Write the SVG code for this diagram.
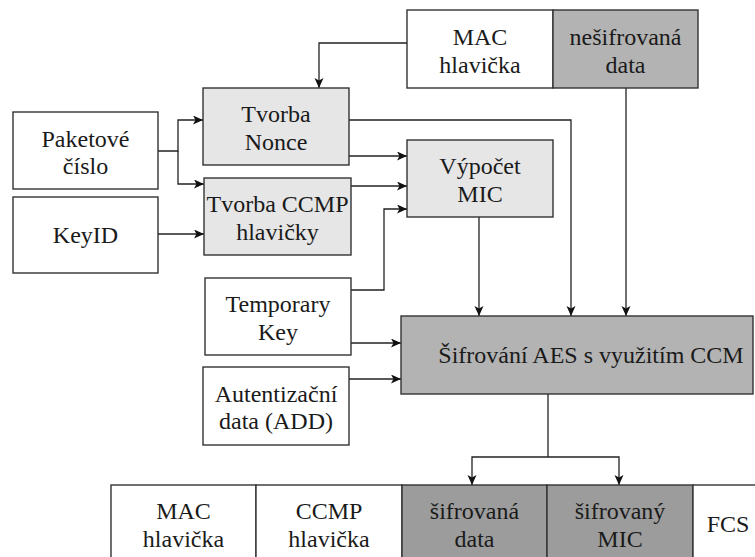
<svg xmlns="http://www.w3.org/2000/svg" width="755" height="557" viewBox="0 0 755 557">
  <defs>
    <marker id="arrow" markerUnits="userSpaceOnUse" markerWidth="11" markerHeight="10" refX="10" refY="4.5" orient="auto">
      <path d="M0,0 L10,4.5 L0,9 L2.5,4.5 z" fill="#111"/>
    </marker>
    <style>
      .box { stroke: #333; stroke-width: 1.4; }
      .white { fill: #ffffff; }
      .light { fill: #e6e6e6; }
      .mid { fill: #b3b3b3; }
      .dark { fill: #9c9c9c; }
      text { font-family: "Liberation Serif", "DejaVu Serif", serif; font-size: 24px; fill: #1a1a1a; text-anchor: middle; }
      .wire { fill: none; stroke: #222; stroke-width: 1.3; }
      .arr { marker-end: url(#arrow); }
    </style>
  </defs>

  <rect width="755" height="557" fill="#ffffff"/>

  <!-- connectors -->
  <g id="connectors">
    <path class="wire arr" d="M407,43 H319 V88"/>
    <path class="wire arr" d="M158,151 H178 V120 H203"/>
    <path class="wire arr" d="M178,151 V184 H204"/>
    <path class="wire arr" d="M158,234 H204"/>
    <path class="wire arr" d="M349,120 H571 V316"/>
    <path class="wire arr" d="M349,156 H407"/>
    <path class="wire arr" d="M351,186 H407"/>
    <path class="wire arr" d="M351,290 H384 V209 H407"/>
    <path class="wire arr" d="M479,217 V316"/>
    <path class="wire arr" d="M626,88 V316"/>
    <path class="wire arr" d="M351,343 H401"/>
    <path class="wire arr" d="M349,379 H401"/>
    <path class="wire" d="M548,394 V457"/>
    <path class="wire arr" d="M548,457 H472 V485"/>
    <path class="wire arr" d="M548,457 H619 V485"/>
  </g>

  <!-- incoming frame -->
  <g id="frame-in">
    <rect class="box white" x="407" y="10" width="146" height="78"/>
    <text x="480" y="45">MAC</text>
    <text x="480" y="72.5">hlavička</text>
    <rect class="box mid" x="553" y="10" width="145" height="78"/>
    <text x="625.5" y="45">nešifrovaná</text>
    <text x="625.5" y="72.5">data</text>
  </g>

  <g id="paketove-cislo">
    <rect class="box white" x="13" y="112" width="145" height="77"/>
    <text x="85.5" y="146.5">Paketové</text>
    <text x="85.5" y="174">číslo</text>
  </g>

  <g id="keyid">
    <rect class="box white" x="13" y="197" width="145" height="76"/>
    <text x="85.5" y="243">KeyID</text>
  </g>

  <g id="tvorba-nonce">
    <rect class="box light" x="203" y="88" width="146" height="77"/>
    <text x="276" y="122">Tvorba</text>
    <text x="276" y="149.5">Nonce</text>
  </g>

  <g id="tvorba-ccmp">
    <rect class="box light" x="204" y="178" width="147" height="77"/>
    <text x="277.5" y="212">Tvorba CCMP</text>
    <text x="277.5" y="239.5">hlavičky</text>
  </g>

  <g id="vypocet-mic">
    <rect class="box light" x="407" y="140" width="146" height="77"/>
    <text x="480" y="174">Výpočet</text>
    <text x="480" y="201.5">MIC</text>
  </g>

  <g id="temporary-key">
    <rect class="box white" x="205" y="278" width="146" height="77"/>
    <text x="278" y="312">Temporary</text>
    <text x="278" y="339.5">Key</text>
  </g>

  <g id="autentizacni-data">
    <rect class="box white" x="203" y="367" width="146" height="78"/>
    <text x="276" y="401.5">Autentizační</text>
    <text x="276" y="429">data (ADD)</text>
  </g>

  <g id="aes-ccm">
    <rect class="box mid" x="401" y="316" width="352" height="78"/>
    <text x="591" y="363">Šifrování AES s využitím CCM</text>
  </g>

  <!-- outgoing frame -->
  <g id="frame-out">
    <rect class="box white" x="111" y="485" width="145" height="77"/>
    <text x="183.5" y="519">MAC</text>
    <text x="183.5" y="547">hlavička</text>
    <rect class="box white" x="256" y="485" width="146" height="77"/>
    <text x="329" y="519">CCMP</text>
    <text x="329" y="547">hlavička</text>
    <rect class="box dark" x="402" y="485" width="145" height="77"/>
    <text x="474.5" y="519">šifrovaná</text>
    <text x="474.5" y="547">data</text>
    <rect class="box dark" x="547" y="485" width="146" height="77"/>
    <text x="620" y="519">šifrovaný</text>
    <text x="620" y="547">MIC</text>
    <rect class="box white" x="693" y="485" width="146" height="77"/>
    <text x="728" y="532">FCS</text>
  </g>
</svg>
